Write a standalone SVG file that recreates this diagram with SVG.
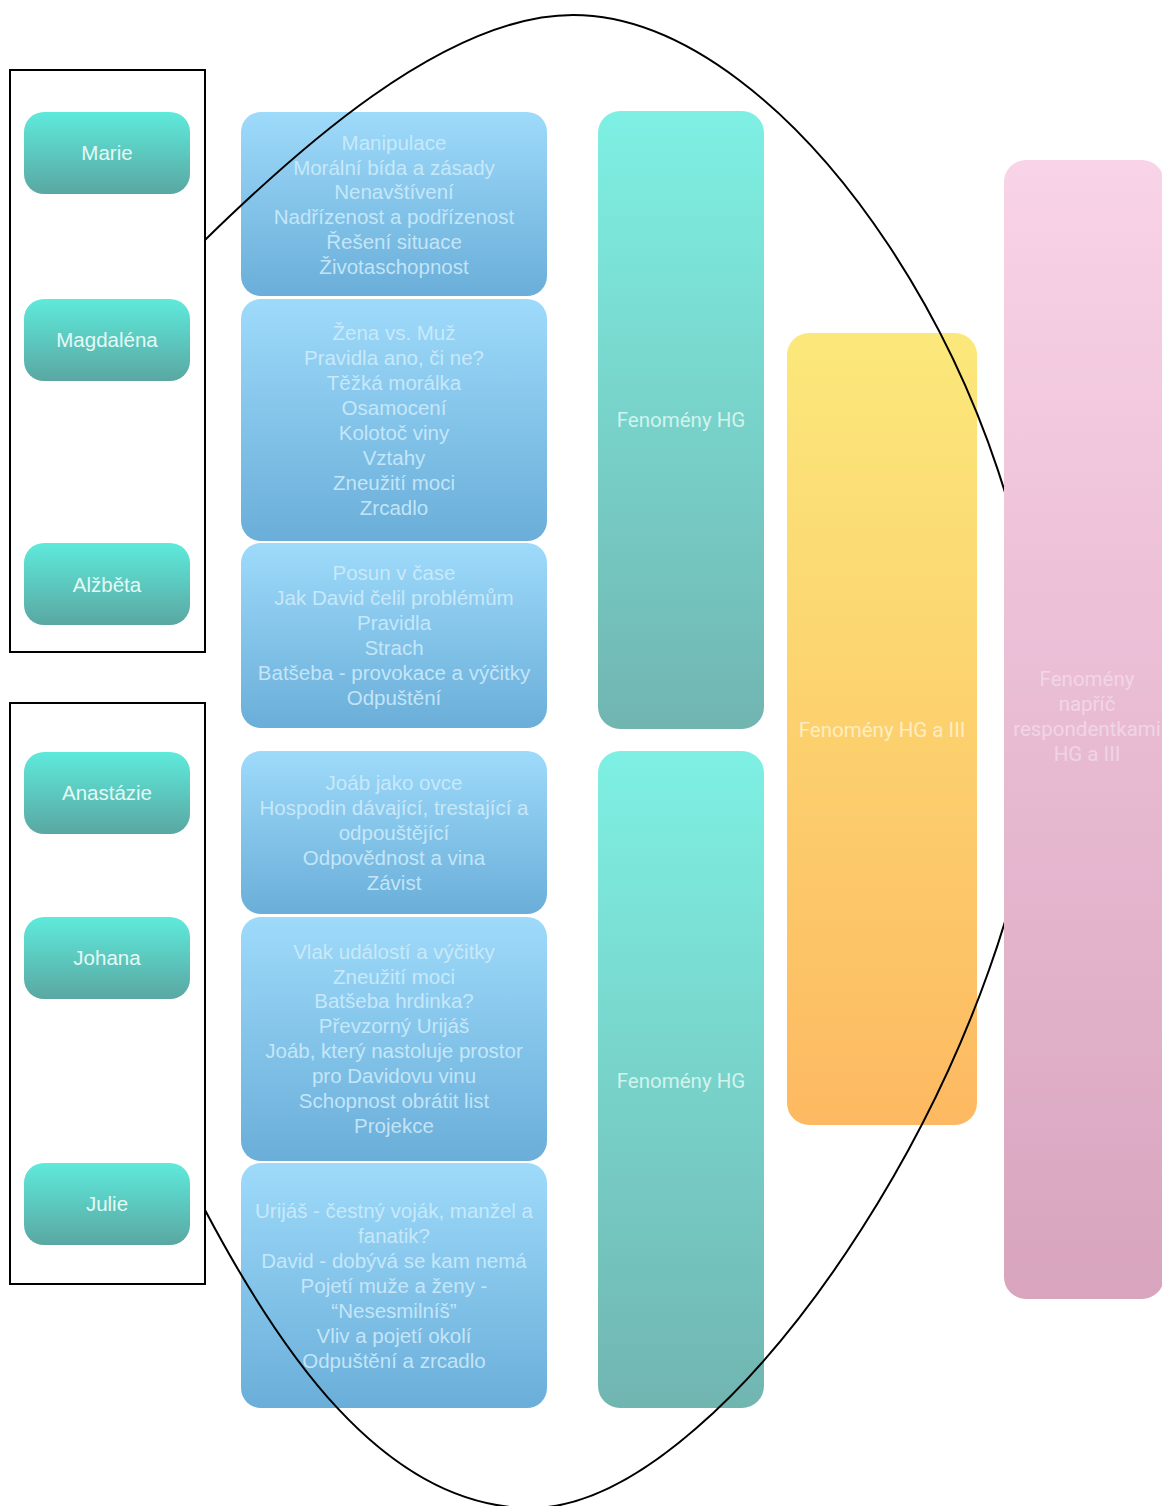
<svg xmlns="http://www.w3.org/2000/svg" width="1162" height="1506" viewBox="0 0 1162 1506">
<defs>
<linearGradient id="gName" x1="0" y1="0" x2="0" y2="1"><stop offset="0" stop-color="#5eeadb"/><stop offset="1" stop-color="#5aa7a2"/></linearGradient>
<linearGradient id="gBlue" x1="0" y1="0" x2="0" y2="1"><stop offset="0" stop-color="#9edafa"/><stop offset="1" stop-color="#6aaed9"/></linearGradient>
<linearGradient id="gTeal" x1="0" y1="0" x2="0" y2="1"><stop offset="0" stop-color="#7ef0e3"/><stop offset="1" stop-color="#71b5b1"/></linearGradient>
<linearGradient id="gYellow" x1="0" y1="0" x2="0" y2="1"><stop offset="0" stop-color="#fbe87b"/><stop offset="1" stop-color="#fdb961"/></linearGradient>
<linearGradient id="gPink" x1="0" y1="0" x2="0" y2="1"><stop offset="0" stop-color="#f9d3e8"/><stop offset="1" stop-color="#d8a4be"/></linearGradient>
</defs>
<style>
.frame{fill:none;stroke:#000;stroke-width:2}
.name{fill:url(#gName)}
.blue{fill:url(#gBlue)}
.teal{fill:url(#gTeal)}
.yellow{fill:url(#gYellow)}
.pink{fill:url(#gPink)}
.t{font-family:"Liberation Sans",Arial,sans-serif;font-size:20.5px;text-anchor:middle}
.tn{fill:#e4faf6}
.tb{fill:#d2eefc;fill-opacity:0.85}
.r{font-family:Roboto,"Liberation Sans",sans-serif;font-size:20.5px;text-anchor:middle}
.tt{fill:#e2faf6;fill-opacity:0.85}
.ty{fill:#fff6d8;fill-opacity:0.8}
.tp{fill:#ffffff;fill-opacity:0.4}
.ell{fill:none;stroke:#000;stroke-width:2}
</style>
<rect width="1162" height="1506" fill="#fff"/>

<g id="topics1">
<rect class="blue" x="241" y="112" width="306" height="184" rx="20"/>
<text class="t tb"><tspan x="394" y="150">Manipulace</tspan><tspan x="394" y="175">Morální bída a zásady</tspan><tspan x="394" y="199">Nenavštívení</tspan><tspan x="394" y="224">Nadřízenost a podřízenost</tspan><tspan x="394" y="249">Řešení situace</tspan><tspan x="394" y="274">Životaschopnost</tspan></text>
</g>
<g id="topics2">
<rect class="blue" x="241" y="299" width="306" height="242" rx="20"/>
<text class="t tb"><tspan x="394" y="340">Žena vs. Muž</tspan><tspan x="394" y="365">Pravidla ano, či ne?</tspan><tspan x="394" y="390">Těžká morálka</tspan><tspan x="394" y="415">Osamocení</tspan><tspan x="394" y="440">Kolotoč viny</tspan><tspan x="394" y="465">Vztahy</tspan><tspan x="394" y="490">Zneužití moci</tspan><tspan x="394" y="515">Zrcadlo</tspan></text>
</g>
<g id="topics3">
<rect class="blue" x="241" y="543" width="306" height="185" rx="20"/>
<text class="t tb"><tspan x="394" y="580">Posun v čase</tspan><tspan x="394" y="605">Jak David čelil problémům</tspan><tspan x="394" y="630">Pravidla</tspan><tspan x="394" y="655">Strach</tspan><tspan x="394" y="680">Batšeba - provokace a výčitky</tspan><tspan x="394" y="705">Odpuštění</tspan></text>
</g>
<g id="topics4">
<rect class="blue" x="241" y="751" width="306" height="163" rx="20"/>
<text class="t tb"><tspan x="394" y="790">Joáb jako ovce</tspan><tspan x="394" y="815">Hospodin dávající, trestající a</tspan><tspan x="394" y="840">odpouštějící</tspan><tspan x="394" y="865">Odpovědnost a vina</tspan><tspan x="394" y="890">Závist</tspan></text>
</g>
<g id="topics5">
<rect class="blue" x="241" y="917" width="306" height="244" rx="20"/>
<text class="t tb"><tspan x="394" y="959">Vlak událostí a výčitky</tspan><tspan x="394" y="984">Zneužití moci</tspan><tspan x="394" y="1008">Batšeba hrdinka?</tspan><tspan x="394" y="1033">Převzorný Urijáš</tspan><tspan x="394" y="1058">Joáb, který nastoluje prostor</tspan><tspan x="394" y="1083">pro Davidovu vinu</tspan><tspan x="394" y="1108">Schopnost obrátit list</tspan><tspan x="394" y="1133">Projekce</tspan></text>
</g>
<g id="topics6">
<rect class="blue" x="241" y="1163" width="306" height="245" rx="20"/>
<text class="t tb"><tspan x="394" y="1218">Urijáš - čestný voják, manžel a</tspan><tspan x="394" y="1243">fanatik?</tspan><tspan x="394" y="1268">David - dobývá se kam nemá</tspan><tspan x="394" y="1293">Pojetí muže a ženy -</tspan><tspan x="394" y="1318">“Nesesmilníš”</tspan><tspan x="394" y="1343">Vliv a pojetí okolí</tspan><tspan x="394" y="1368">Odpuštění a zrcadlo</tspan></text>
</g>

<g id="hg1">
<rect class="teal" x="598" y="111" width="166" height="618" rx="22"/>
<text class="r tt" x="681" y="427">Fenomény HG</text>
</g>
<g id="hg2">
<rect class="teal" x="598" y="751" width="166" height="657" rx="22"/>
<text class="r tt" x="681" y="1088">Fenomény HG</text>
</g>
<g id="hg-iii">
<rect class="yellow" x="787" y="333" width="190" height="792" rx="22"/>
<text class="r ty" x="882" y="737">Fenomény HG a III</text>
</g>

<g id="connectors">
<path class="ell" d="M205,240 C291,156 443,15 573,15 C792.5,15 1040,397.8 1040,711 C1040,1029.8 734,1508 531,1508 C381,1508 275,1342.5 205,1210"/>
</g>

<g id="all">
<rect class="pink" x="1004" y="160" width="160" height="1139" rx="22"/>
<text class="r tp"><tspan x="1087" y="686">Fenomény</tspan><tspan x="1087" y="711">napříč</tspan><tspan x="1087" y="736">respondentkami</tspan><tspan x="1087" y="761">HG a III</tspan></text>
</g>

<g id="group1">
<rect class="frame" x="10" y="70" width="195" height="582"/>
</g>
<g id="group2">
<rect class="frame" x="10" y="703" width="195" height="581"/>
</g>

<g id="marie"><rect class="name" x="24" y="112" width="166" height="82" rx="20"/><text class="t tn" x="107" y="160">Marie</text></g>
<g id="magdalena"><rect class="name" x="24" y="299" width="166" height="82" rx="20"/><text class="t tn" x="107" y="347">Magdaléna</text></g>
<g id="alzbeta"><rect class="name" x="24" y="543" width="166" height="82" rx="20"/><text class="t tn" x="107" y="592">Alžběta</text></g>
<g id="anastazie"><rect class="name" x="24" y="752" width="166" height="82" rx="20"/><text class="t tn" x="107" y="800">Anastázie</text></g>
<g id="johana"><rect class="name" x="24" y="917" width="166" height="82" rx="20"/><text class="t tn" x="107" y="965">Johana</text></g>
<g id="julie"><rect class="name" x="24" y="1163" width="166" height="82" rx="20"/><text class="t tn" x="107" y="1211">Julie</text></g>
</svg>
